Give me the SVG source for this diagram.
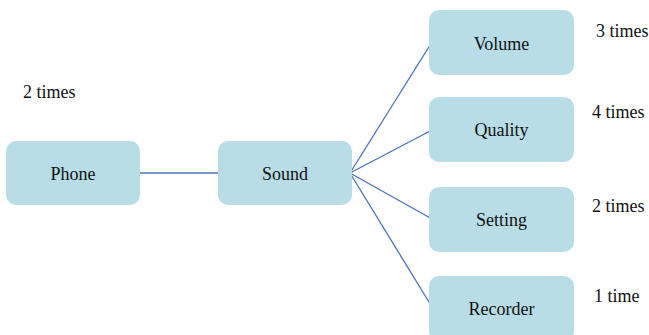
<svg xmlns="http://www.w3.org/2000/svg" width="649" height="335" viewBox="0 0 649 335">
<style>
.box{fill:#b8dde7;stroke:none}
.edge{stroke:#4a72b8;stroke-width:1.3;fill:none}
</style>
<rect width="649" height="335" fill="#ffffff"/>
<g id="connectors">
<line class="edge" x1="138" y1="173" x2="220" y2="173"/>
<line class="edge" x1="350" y1="173" x2="432" y2="42"/>
<line class="edge" x1="350" y1="173" x2="432" y2="130"/>
<line class="edge" x1="350" y1="173" x2="432" y2="219"/>
<line class="edge" x1="350" y1="173" x2="432" y2="307"/>
</g>
<g font-family="Liberation Serif, Times New Roman, serif" font-size="18" fill="#111">
<g id="phone"><rect class="box" x="6" y="141" width="134" height="64" rx="10"/><text text-anchor="middle" x="73" y="180">Phone</text></g>
<g id="sound"><rect class="box" x="218" y="141" width="134" height="64" rx="10"/><text text-anchor="middle" x="285" y="180">Sound</text></g>
<g id="volume"><rect class="box" x="429" y="10" width="145" height="65" rx="10"/><text text-anchor="middle" x="501.5" y="50">Volume</text></g>
<g id="quality"><rect class="box" x="429" y="97" width="145" height="65" rx="10"/><text text-anchor="middle" x="501.5" y="136">Quality</text></g>
<g id="setting"><rect class="box" x="429" y="187" width="145" height="65" rx="10"/><text text-anchor="middle" x="501.5" y="226">Setting</text></g>
<g id="recorder"><rect class="box" x="429" y="276" width="145" height="65" rx="10"/><text text-anchor="middle" x="501.5" y="315">Recorder</text></g>
<g id="counts">
<text x="23" y="98">2 times</text>
<text x="596" y="37">3 times</text>
<text x="592" y="118">4 times</text>
<text x="592" y="212">2 times</text>
<text x="594" y="302">1 time</text>
</g>
</g>
</svg>
